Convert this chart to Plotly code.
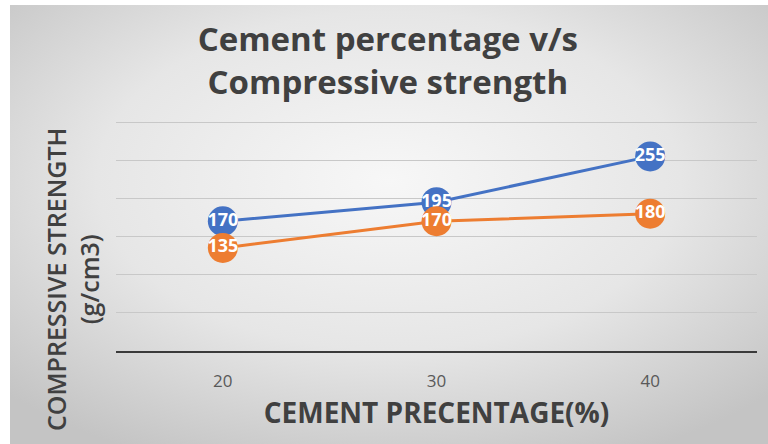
import base64
import plotly.graph_objects as go

categories = ["20", "30", "40"]
series_a = [170, 195, 255]
series_b = [135, 170, 180]
y_ticks = [0, 50, 100, 150, 200, 250, 300]

W, H = 768, 444
L, R, T, B = 116, 11, 119, 93
pw, ph = W - L - R, H - T - B

svg = f'''<svg xmlns="http://www.w3.org/2000/svg" width="{W}" height="{H}" viewBox="0 0 {W} {H}" preserveAspectRatio="none">
<defs><radialGradient id="g" cx="50%" cy="40%" r="70%">
<stop offset="0%" stop-color="#f7f7f7"/><stop offset="55%" stop-color="#e6e6e6"/><stop offset="100%" stop-color="#c4c4c4"/>
</radialGradient></defs>
<rect x="0" y="0" width="{W}" height="{H}" fill="#ffffff"/>
<rect x="10" y="5" width="{W-10}" height="{H-5}" fill="url(#g)"/>
</svg>'''
uri = "data:image/svg+xml;base64," + base64.b64encode(svg.encode()).decode()

fig = go.Figure()
for vals, col in [(series_a, "#4472C4"), (series_b, "#ED7D31")]:
    fig.add_trace(go.Scatter(
        x=categories, y=vals, mode="lines+markers+text",
        line=dict(color=col, width=3),
        marker=dict(color=col, size=30),
        text=[str(v) for v in vals], textposition="middle center",
        textfont=dict(color="white", size=18, family="Open Sans", weight="bold"),
        cliponaxis=False, showlegend=False,
    ))

fig.add_layout_image(dict(
    source=uri, xref="paper", yref="paper",
    x=-L / pw, y=1 + T / ph, sizex=W / pw, sizey=H / ph,
    xanchor="left", yanchor="top", sizing="stretch", layer="below",
))

fig.add_annotation(
    text="COMPRESSIVE STRENGTH<br>(g/cm3)", textangle=-90,
    xref="paper", yref="paper", x=(72 - L) / pw, y=1 - (280 - T) / ph,
    xanchor="center", yanchor="middle", showarrow=False,
    font=dict(family="Open Sans", size=25, color="#404040", weight=600),
)

fig.update_layout(
    width=W, height=H,
    margin=dict(l=L, r=R, t=T, b=B, autoexpand=False),
    paper_bgcolor="rgba(0,0,0,0)", plot_bgcolor="rgba(0,0,0,0)",
    title=dict(text="<b>Cement percentage v/s<br>Compressive strength</b>",
               x=0.505, xref="container", xanchor="center",
               y=0.886, yref="container", yanchor="top",
               font=dict(family="Open Sans", size=33, color="#404040")),
    xaxis=dict(type="category", range=[-0.5, 2.5], showgrid=False,
               showline=True, linecolor="#3a3a3a", linewidth=2,
               ticks="", ticklabelstandoff=14,
               tickfont=dict(family="Open Sans", size=17, color="#595959"),
               title=dict(text="<b>CEMENT PRECENTAGE(%)</b>", standoff=12,
                          font=dict(family="Open Sans", size=28, color="#404040"))),
    yaxis=dict(range=[0, 304], tickvals=y_ticks, showticklabels=False,
               showgrid=True, gridcolor="#c8c8c8", gridwidth=1,
               zeroline=False, showline=False),
    font=dict(family="Open Sans"),
)

fig.write_html("out.html", config={"displayModeBar": False},
               post_script="document.body.style.margin='0';document.body.style.padding='0';")
